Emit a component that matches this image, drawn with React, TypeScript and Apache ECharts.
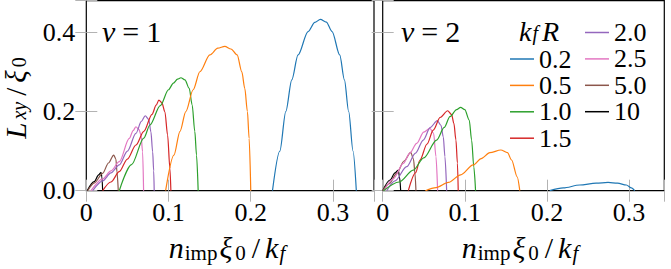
import React, { useEffect, useRef } from 'react';
import * as echarts from 'echarts';

const SERIF = 'Liberation Serif';

// legend names (k_f R) and colours
const kRNames = ['0.2', '0.5', '1.0', '1.5', '2.0', '2.5', '5.0', '10'];
const kRColors = ['#1f77b4', '#ff7f0e', '#2ca02c', '#d62728', '#9467bd', '#e377c2', '#8c564b', '#000000'];

// tick labels
const xTickValues = [0, 0.1, 0.2, 0.3];
const xTickLabels = ['0', '0.1', '0.2', '0.3'];
const yTickValues = [0, 0.2, 0.4];
const yTickLabels = ['0.0', '0.2', '0.4'];

// ν = 1 panel  ([n_imp ξ0 / k_f, L_xy / ξ0])
const nu1_02 = [[0.2265, 0], [0.2354, 0.1], [0.2427, 0.2], [0.25, 0.28], [0.2576, 0.343], [0.2698, 0.402], [0.278, 0.425], [0.2848, 0.433], [0.292, 0.426], [0.299, 0.402], [0.3083, 0.343], [0.314, 0.28], [0.3192, 0.2], [0.3245, 0.1], [0.3285, 0]];
const nu1_05 = [[0.0965, 0], [0.1066, 0.09], [0.114, 0.15], [0.1211, 0.2], [0.13, 0.255], [0.1382, 0.3005], [0.1503, 0.343], [0.16, 0.36], [0.1685, 0.3646], [0.176, 0.358], [0.1835, 0.343], [0.1892, 0.3], [0.1928, 0.2585], [0.196, 0.2], [0.1981, 0.132], [0.2001, 0]];
const nu1_10 = [[0.0401, 0], [0.055, 0.066], [0.07, 0.133], [0.0774, 0.166], [0.09, 0.215], [0.1, 0.255], [0.106, 0.272], [0.111, 0.282], [0.1151, 0.2854], [0.12, 0.28], [0.1252, 0.2585], [0.1288, 0.2164], [0.132, 0.15], [0.1341, 0.09], [0.1361, 0]];
const nu1_15 = [[0.0199, 0], [0.03, 0.022], [0.0401, 0.048], [0.05, 0.08], [0.0604, 0.1154], [0.07, 0.15], [0.08, 0.193], [0.085, 0.216], [0.0883, 0.229], [0.092, 0.222], [0.0956, 0.1995], [0.0989, 0.1407], [0.1017, 0.0566], [0.1029, 0]];
const nu1_20 = [[0.0078, 0], [0.02, 0.025], [0.03, 0.045], [0.0401, 0.065], [0.05, 0.1], [0.0604, 0.145], [0.067, 0.175], [0.0717, 0.1894], [0.076, 0.18], [0.0786, 0.149], [0.0807, 0.0985], [0.082, 0.05], [0.0826, 0]];
const nu1_25 = [[0.0057, 0], [0.02, 0.03], [0.03, 0.05], [0.0401, 0.0733], [0.0523, 0.132], [0.057, 0.152], [0.0604, 0.1616], [0.064, 0.155], [0.0665, 0.1407], [0.0685, 0.0985], [0.0697, 0]];
const nu1_50 = [[0.0017, 0], [0.01, 0.02], [0.0199, 0.044], [0.027, 0.07], [0.0333, 0.09], [0.036, 0.08], [0.0373, 0.048], [0.0389, 0]];
const nu1_100 = [[0.001, 0], [0.0097, 0.0227], [0.015, 0.04], [0.0179, 0.0464], [0.019, 0.035], [0.0199, 0]];

// ν = 2 panel
const nu2_02 = [[0.2035, 0], [0.22, 0.007], [0.24, 0.0144], [0.26, 0.019], [0.2745, 0.021], [0.286, 0.019], [0.2968, 0.0144], [0.303, 0.007], [0.307, 0]];
const nu2_05 = [[0.052, 0], [0.065, 0.008], [0.08, 0.021], [0.095, 0.04], [0.1102, 0.065], [0.12, 0.081], [0.1305, 0.096], [0.1439, 0.1028], [0.152, 0.096], [0.157, 0.0775], [0.1638, 0.035], [0.167, 0]];
const nu2_10 = [[0.001, 0], [0.02, 0.022], [0.0372, 0.052], [0.05, 0.083], [0.0657, 0.128], [0.075, 0.16], [0.0819, 0.187], [0.09, 0.205], [0.0949, 0.2106], [0.1, 0.205], [0.1054, 0.1785], [0.1083, 0.128], [0.111, 0.06], [0.1131, 0]];
const nu2_15 = [[0.0312, 0], [0.04, 0.045], [0.0454, 0.0775], [0.054, 0.118], [0.0616, 0.153], [0.07, 0.185], [0.0791, 0.202], [0.084, 0.192], [0.0867, 0.17], [0.0892, 0.128], [0.091, 0.07], [0.092, 0]];
const nu2_20 = [[0.005, 0], [0.015, 0.025], [0.0292, 0.0606], [0.04, 0.095], [0.0494, 0.128], [0.058, 0.16], [0.0665, 0.177], [0.071, 0.165], [0.0738, 0.136], [0.0758, 0.086], [0.0779, 0]];
const nu2_25 = [[0.0016, 0], [0.013, 0.03], [0.0251, 0.069], [0.033, 0.095], [0.0414, 0.1197], [0.05, 0.148], [0.0575, 0.1576], [0.062, 0.145], [0.0649, 0.086], [0.0669, 0]];
const nu2_50 = [[0.0, 0], [0.008, 0.018], [0.017, 0.044], [0.026, 0.075], [0.0341, 0.097], [0.0375, 0.08], [0.0393, 0.044], [0.0405, 0]];
const nu2_100 = [[0.0, 0], [0.0089, 0.027], [0.015, 0.045], [0.019, 0.052], [0.0205, 0.035], [0.0219, 0]];

const nu1Data = [nu1_02, nu1_05, nu1_10, nu1_15, nu1_20, nu1_25, nu1_50, nu1_100];
const nu2Data = [nu2_02, nu2_05, nu2_10, nu2_15, nu2_20, nu2_25, nu2_50, nu2_100];

const fmt = (vals: number[], labels: string[]) => (v: number) => {
  const i = vals.findIndex((t) => Math.abs(t - v) < 1e-9);
  return i >= 0 ? labels[i] : '';
};

const tickStyle = { inside: true, length: 11, lineStyle: { color: '#b3b3b3', width: 1 } };
const labelStyle = { fontFamily: SERIF, fontSize: 26, color: '#000' };

const base = { fontFamily: SERIF, color: '#000' };
const makeRich = (fs: number, lh: number, sfs: number, slh: number) => ({
  i: { ...base, fontStyle: 'italic', fontSize: fs, lineHeight: lh },
  ip: { ...base, fontStyle: 'italic', fontSize: fs, lineHeight: lh, padding: [0, 2, 0, 0] },
  r: { ...base, fontSize: fs, lineHeight: lh },
  eq: { ...base, fontSize: fs, lineHeight: lh, padding: [0, 7, 0, 7] },
  sl: { ...base, fontSize: fs, lineHeight: lh, padding: [0, 5, 0, 4] },
  si: { ...base, fontStyle: 'italic', fontSize: sfs, lineHeight: slh, verticalAlign: 'bottom', padding: [0, 2, 0, 1] },
  sip: { ...base, fontStyle: 'italic', fontSize: sfs, lineHeight: slh, verticalAlign: 'bottom', padding: [0, 4, 0, 1] },
  s: { ...base, fontSize: sfs, lineHeight: slh, verticalAlign: 'bottom', padding: [0, 2, 0, 1] },
});
const mathRich = makeRich(30, 32, 21, 15);
const titleRich = makeRich(28, 24, 20, 11);
const yRich = makeRich(29, 26, 20, 12);

export default function App() {
  const ref = useRef<HTMLDivElement>(null);
  useEffect(() => {
    if (!ref.current) return;
    const chart = echarts.init(ref.current, null, { renderer: 'svg' });
    const grids = [
      { left: 86.3, top: 0.7, width: 287.7, height: 190 },
      { left: 382.7, top: 0.7, width: 281.6, height: 190 },
    ];
    const xMax = [0.35, 0.343];
    const xAxis: any[] = [];
    const yAxis: any[] = [];
    grids.forEach((_, g) => {
      xAxis.push({
        gridIndex: g, type: 'value', min: 0, max: xMax[g], interval: 0.1, position: 'bottom',
        axisLine: { show: false }, axisTick: tickStyle, splitLine: { show: false },
        axisLabel: { ...labelStyle, margin: 9, formatter: fmt(xTickValues, xTickLabels) },
      });
      xAxis.push({
        gridIndex: g, type: 'value', min: 0, max: xMax[g], interval: 0.1, position: 'top',
        axisLine: { show: false }, axisTick: tickStyle, splitLine: { show: false }, axisLabel: { show: false },
      });
      yAxis.push({
        gridIndex: g, type: 'value', min: 0, max: 0.48, interval: 0.2, position: 'left',
        axisLine: { show: false }, axisTick: tickStyle, splitLine: { show: false },
        axisLabel: g === 0 ? { ...labelStyle, margin: 11, formatter: fmt(yTickValues, yTickLabels) } : { show: false },
      });
      yAxis.push({
        gridIndex: g, type: 'value', min: 0, max: 0.48, interval: 0.2, position: 'right',
        axisLine: { show: false }, axisTick: tickStyle, splitLine: { show: false }, axisLabel: { show: false },
      });
    });

    const series: any[] = [];
    [nu1Data, nu2Data].forEach((panel, g) => {
      panel.forEach((d, i) => {
        series.push({
          type: 'line', name: kRNames[i], xAxisIndex: g * 2, yAxisIndex: g * 2, data: d,
          symbol: 'none', showSymbol: false, smooth: 0.3, smoothMonotone: 'x',
          lineStyle: { width: 1.2, color: kRColors[i] }, itemStyle: { color: kRColors[i] },
          z: 10 - i,
        });
      });
    });

    const legendCommon = {
      orient: 'vertical', itemWidth: 24, itemHeight: 1.5, itemGap: 0.4, icon: 'rect',
      padding: 0, selectedMode: false,
      textStyle: { fontFamily: SERIF, fontSize: 26, color: '#000', lineHeight: 25 },
    };

    chart.setOption({
      animation: false,
      backgroundColor: '#fff',
      grid: grids.map((g) => ({ ...g, show: true, borderColor: '#000', borderWidth: 1.2, backgroundColor: 'transparent' })),
      xAxis, yAxis, series,
      legend: [
        { ...legendCommon, data: kRNames.slice(0, 4), left: 510, top: 46 },
        { ...legendCommon, data: kRNames.slice(4), left: 585, top: 19.5 },
      ],
      graphic: [
        { type: 'text', x: 102, y: 31, style: { text: '{i|ν}{eq|=}{r|1}', rich: mathRich, align: 'left', verticalAlign: 'middle' } },
        { type: 'text', x: 401, y: 31, style: { text: '{i|ν}{eq|=}{r|2}', rich: mathRich, align: 'left', verticalAlign: 'middle' } },
        { type: 'text', x: 539, y: 31, style: { text: '{i|k}{sip|f}{i|R}', rich: titleRich, align: 'center', verticalAlign: 'middle' } },
        { type: 'text', x: 16, y: 97, rotation: Math.PI / 2, style: { text: '{ip|L}{si|xy}{sl|/}{ip|ξ}{s|0}', rich: yRich, align: 'center', verticalAlign: 'middle' } },
        { type: 'text', x: 228, y: 247, style: { text: '{i|n}{s|imp}{ip|ξ}{s|0}{sl|/}{i|k}{si|f}', rich: mathRich, align: 'center', verticalAlign: 'middle' } },
        { type: 'text', x: 521, y: 247, style: { text: '{i|n}{s|imp}{ip|ξ}{s|0}{sl|/}{i|k}{si|f}', rich: mathRich, align: 'center', verticalAlign: 'middle' } },
      ],
    });
    return () => chart.dispose();
  }, []);
  return <div ref={ref} style={{ position: 'fixed', left: 0, top: 0, width: 671, height: 269 }} />;
}
